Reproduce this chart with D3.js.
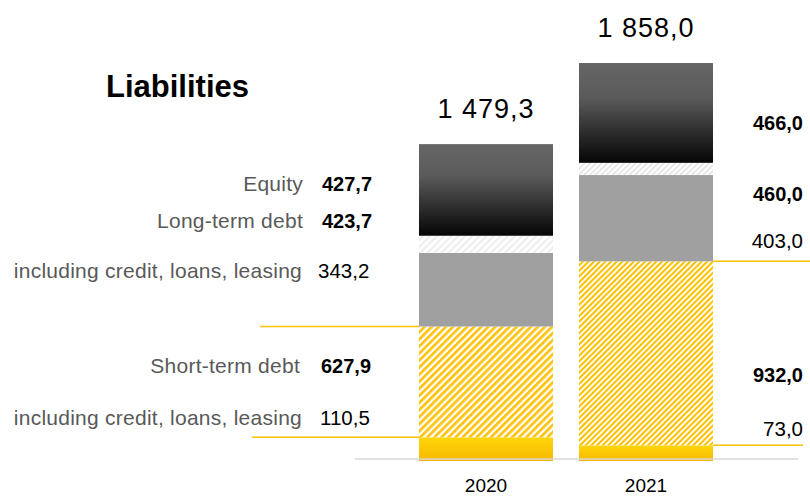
<!DOCTYPE html>
<html>
<head>
<meta charset="utf-8">
<script src="https://cdn.jsdelivr.net/npm/d3@7/dist/d3.min.js"></script>
<style>
  html, body { margin: 0; padding: 0; background: #fff; }
  svg { display: block; font-family: "Liberation Sans", Arial, sans-serif; }
</style>
</head>
<body>
<svg id="chart" width="810" height="497"></svg>
<script>
// Balance sheet liabilities, million
const years = ["2020", "2021"];
const equity = [427.7, 466.0];
const longTermDebt = [423.7, 460.0];
const longTermCredit = [343.2, 403.0];
const shortTermDebt = [627.9, 932.0];
const shortTermCredit = [110.5, 73.0];
const totals = [1479.3, 1858.0];

const rowLabels = ["Equity", "Long-term debt", "including credit, loans, leasing",
                   "Short-term debt", "including credit, loans, leasing"];

const locale = d3.formatLocale({ decimal: ",", thousands: " ", grouping: [3], currency: ["", ""] });
const fmt = locale.format(",.1f");

const svg = d3.select("#chart");
const W = 810, H = 497;
svg.append("rect").attr("width", W).attr("height", H).attr("fill", "#fff");

// stacked segments, bottom to top
const keys = ["stCredit", "stOther", "ltCredit", "ltOther", "equity"];
const rows = years.map((yr, i) => ({
  year: yr,
  stCredit: shortTermCredit[i],
  stOther: shortTermDebt[i] - shortTermCredit[i],
  ltCredit: longTermCredit[i],
  ltOther: longTermDebt[i] - longTermCredit[i],
  equity: equity[i]
}));
const series = d3.stack().keys(keys)(rows);

const x = d3.scaleBand().domain(years).range([419, 713]).paddingInner(0.1625);
const y = d3.scaleLinear().domain([0, d3.max(totals)]).range([461, 63]);

// fills
const defs = svg.append("defs");
const gDark = defs.append("linearGradient").attr("id", "gradDark")
  .attr("x1", 0).attr("y1", 0).attr("x2", 0).attr("y2", 1);
gDark.append("stop").attr("offset", 0).attr("stop-color", "#666666");
gDark.append("stop").attr("offset", 0.35).attr("stop-color", "#5a5a5a");
gDark.append("stop").attr("offset", 1).attr("stop-color", "#050505");

const gYel = defs.append("linearGradient").attr("id", "gradYellow")
  .attr("x1", 0).attr("y1", 0).attr("x2", 0).attr("y2", 1);
gYel.append("stop").attr("offset", 0).attr("stop-color", "#ffd60a");
gYel.append("stop").attr("offset", 1).attr("stop-color", "#f7b800");

function hatch(id, period, stripe, color, bg) {
  const p = defs.append("pattern").attr("id", id)
    .attr("patternUnits", "userSpaceOnUse")
    .attr("width", period).attr("height", period)
    .attr("patternTransform", "rotate(45)");
  p.append("rect").attr("width", period).attr("height", period).attr("fill", bg);
  p.append("rect").attr("width", stripe).attr("height", period).attr("fill", color);
}
hatch("hatchY0", 5, 2.7, "#ffc20e", "#fff");
hatch("hatchY1", 4, 2.1, "#ffc000", "#fff");
hatch("hatchW0", 5, 1.8, "#ececec", "#fff");
hatch("hatchW1", 4, 1.6, "#e2e2e2", "#fff");

const fills = {
  stCredit: () => "url(#gradYellow)",
  stOther: i => `url(#hatchY${i})`,
  ltCredit: () => "#a0a0a0",
  ltOther: i => `url(#hatchW${i})`,
  equity: () => "url(#gradDark)"
};

svg.append("g").selectAll("g").data(series).join("g")
  .selectAll("rect").data(s => s.map((d, i) => ({ key: s.key, i, d })))
  .join("rect")
  .attr("x", o => x(o.d.data.year))
  .attr("width", x.bandwidth())
  .attr("y", o => y(o.d[1]))
  .attr("height", o => y(o.d[0]) - y(o.d[1]))
  .attr("fill", o => fills[o.key](o.i));

// baseline
svg.append("line").attr("x1", 355).attr("x2", 798)
  .attr("y1", 459).attr("y2", 459)
  .attr("stroke", "#d9d9d9").attr("stroke-width", 1.5);

// short-term debt brackets
const yellow = "#ffc000";
const x0 = x(years[0]), x1 = x(years[1]) + x.bandwidth();
const brackets = [
  { xa: 260, xb: x0, v: shortTermDebt[0] },
  { xa: 252, xb: x0, v: shortTermCredit[0] },
  { xa: x1, xb: 810, v: shortTermDebt[1] },
  { xa: x1, xb: 803, v: shortTermCredit[1] }
];
svg.append("g").selectAll("line").data(brackets).join("line")
  .attr("x1", d => d.xa).attr("x2", d => d.xb)
  .attr("y1", d => y(d.v)).attr("y2", d => y(d.v))
  .attr("stroke", yellow).attr("stroke-width", 1.5);

// totals
svg.append("g").selectAll("text").data(totals).join("text")
  .attr("x", (d, i) => x(years[i]) + x.bandwidth() / 2)
  .attr("y", d => y(d) - 26)
  .attr("text-anchor", "middle")
  .attr("font-size", 27).attr("letter-spacing", 1)
  .attr("fill", "#000")
  .text(d => fmt(d));

// title
svg.append("text").attr("x", 106).attr("y", 97)
  .attr("font-size", 31).attr("font-weight", "bold").attr("fill", "#000")
  .text("Liabilities");

// left-hand row labels with 2020 values
const leftRows = [
  { label: rowLabels[0], v: equity[0], bold: true, y: 191, lx: 303, vx: 322 },
  { label: rowLabels[1], v: longTermDebt[0], bold: true, y: 228, lx: 303, vx: 322 },
  { label: rowLabels[2], v: longTermCredit[0], bold: false, y: 278, lx: 302, vx: 318 },
  { label: rowLabels[3], v: shortTermDebt[0], bold: true, y: 373, lx: 300, vx: 321 },
  { label: rowLabels[4], v: shortTermCredit[0], bold: false, y: 425, lx: 302, vx: 320 }
];
const lg = svg.append("g");
lg.selectAll("text.lbl").data(leftRows).join("text").attr("class", "lbl")
  .attr("x", d => d.lx).attr("y", d => d.y)
  .attr("text-anchor", "end").attr("font-size", 21).attr("letter-spacing", 0.25)
  .attr("fill", "#595959")
  .text(d => d.label);
lg.selectAll("text.val").data(leftRows).join("text").attr("class", "val")
  .attr("x", d => d.vx).attr("y", d => d.y)
  .attr("font-size", d => d.bold ? 20 : 20.5)
  .attr("font-weight", d => d.bold ? "bold" : "normal")
  .attr("fill", "#000")
  .text(d => fmt(d.v));

// right-hand 2021 values
const rightRows = [
  { v: equity[1], bold: true, y: 130 },
  { v: longTermDebt[1], bold: true, y: 201 },
  { v: longTermCredit[1], bold: false, y: y(shortTermDebt[1]) - 13 },
  { v: shortTermDebt[1], bold: true, y: 382 },
  { v: shortTermCredit[1], bold: false, y: 436 }
];
svg.append("g").selectAll("text").data(rightRows).join("text")
  .attr("x", 803).attr("y", d => d.y)
  .attr("text-anchor", "end")
  .attr("font-size", d => d.bold ? 20 : 20.5)
  .attr("font-weight", d => d.bold ? "bold" : "normal")
  .attr("fill", "#000")
  .text(d => fmt(d.v));

// year axis
const axis = svg.append("g").attr("transform", "translate(0,459)")
  .call(d3.axisBottom(x).tickSize(0).tickPadding(20));
axis.select(".domain").remove();
axis.selectAll("text")
  .attr("font-family", "Liberation Sans, Arial, sans-serif")
  .attr("font-size", 19).attr("fill", "#000");
</script>
</body>
</html>
